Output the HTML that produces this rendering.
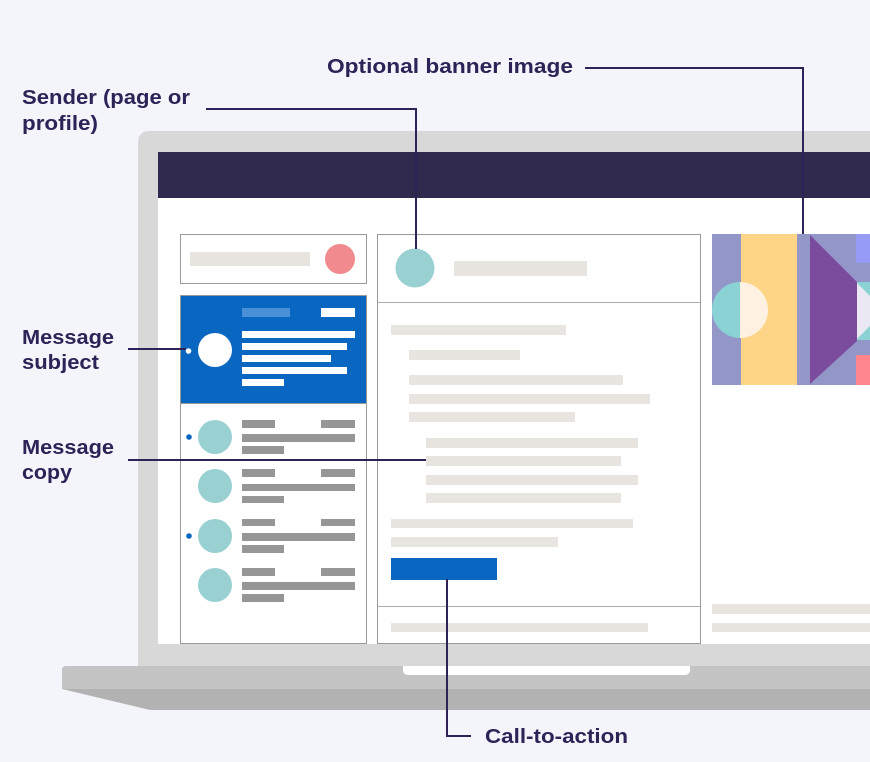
<!DOCTYPE html>
<html><head><meta charset="utf-8"><style>
html,body{margin:0;padding:0;background:#f4f5fa;}
svg{display:block}
text{font-family:"Liberation Sans",sans-serif;font-weight:bold;font-size:20px;fill:#2d2357}
</style></head><body>
<svg width="870" height="762" viewBox="0 0 870 762" xmlns="http://www.w3.org/2000/svg">
<rect width="870" height="762" fill="#f4f5fa"/>
<!-- laptop -->
<path d="M150,131 H870 V666 H138 V143 Q138,131 150,131 Z" fill="#d8d8d8"/>
<rect x="158" y="152" width="712" height="46" fill="#312a4f"/>
<rect x="158" y="198" width="712" height="446" fill="#ffffff"/>
<path d="M66,666 H870 V689 H62 V670 Q62,666 66,666 Z" fill="#c4c4c4"/>
<path d="M62,689 H870 V710 H150 Z" fill="#b2b2b2"/>
<path d="M403,666 H690 V670 Q690,675 684,675 H409 Q403,675 403,670 Z" fill="#ffffff"/>
<!-- search -->
<rect x="180.5" y="234.5" width="186" height="49" fill="#fff" stroke="#999" stroke-width="1"/>
<rect x="190" y="252" width="120" height="14" fill="#e8e4df"/>
<circle cx="340" cy="259" r="15" fill="#f08a8f"/>
<!-- list -->
<rect x="180.5" y="295.5" width="186" height="348" fill="#fff" stroke="#999" stroke-width="1"/>
<rect x="181" y="296" width="185" height="107" fill="#0967c2"/>
<line x1="181" y1="403.5" x2="366" y2="403.5" stroke="#999"/>
<circle cx="215" cy="350" r="17" fill="#fff"/>
<circle cx="188.5" cy="351" r="2.8" fill="#fff"/>
<rect x="242" y="308" width="48" height="9" fill="#4a90d9"/>
<rect x="321" y="308" width="34" height="9" fill="#fff"/>
<rect x="242" y="331" width="113" height="7" fill="#fff"/>
<rect x="242" y="343" width="105" height="7" fill="#fff"/>
<rect x="242" y="355" width="89" height="7" fill="#fff"/>
<rect x="242" y="367" width="105" height="7" fill="#fff"/>
<rect x="242" y="379" width="42" height="7" fill="#fff"/>
<g fill="#969696">
<rect x="242" y="420" width="33" height="8"/><rect x="321" y="420" width="34" height="8"/><rect x="242" y="434" width="113" height="8"/><rect x="242" y="446" width="42" height="8"/>
<rect x="242" y="469" width="33" height="8"/><rect x="321" y="469" width="34" height="8"/><rect x="242" y="484" width="113" height="7"/><rect x="242" y="496" width="42" height="7"/>
<rect x="242" y="519" width="33" height="7"/><rect x="321" y="519" width="34" height="7"/><rect x="242" y="533" width="113" height="8"/><rect x="242" y="545" width="42" height="8"/>
<rect x="242" y="568" width="33" height="8"/><rect x="321" y="568" width="34" height="8"/><rect x="242" y="582" width="113" height="8"/><rect x="242" y="594" width="42" height="8"/>
</g>
<g fill="#99d0d2">
<circle cx="215" cy="437" r="17"/><circle cx="215" cy="486" r="17"/><circle cx="215" cy="536" r="17"/><circle cx="215" cy="585" r="17"/>
</g>
<circle cx="189" cy="437" r="2.8" fill="#0967c2"/>
<circle cx="189" cy="536" r="2.8" fill="#0967c2"/>
<!-- middle -->
<rect x="377.5" y="234.5" width="323" height="409" fill="#fff" stroke="#999"/>
<line x1="378" y1="302.5" x2="700" y2="302.5" stroke="#aaa"/>
<line x1="378" y1="606.5" x2="700" y2="606.5" stroke="#aaa"/>
<circle cx="415" cy="268" r="19.5" fill="#99d0d2"/>
<g fill="#e8e4df">
<rect x="454" y="261" width="133" height="15"/>
<rect x="391" y="325" width="175" height="10"/>
<rect x="409" y="350" width="111" height="10"/>
<rect x="409" y="375" width="214" height="10"/>
<rect x="409" y="394" width="241" height="10"/>
<rect x="409" y="412" width="166" height="10"/>
<rect x="426" y="438" width="212" height="10"/>
<rect x="426" y="456" width="195" height="10"/>
<rect x="426" y="475" width="212" height="10"/>
<rect x="426" y="493" width="195" height="10"/>
<rect x="391" y="519" width="242" height="9"/>
<rect x="391" y="537" width="167" height="10"/>
<rect x="391" y="623" width="257" height="9"/>
<rect x="712" y="604" width="158" height="10"/>
<rect x="712" y="623" width="158" height="9"/>
</g>
<rect x="391" y="558" width="106" height="22" fill="#0967c2"/>
<!-- banner -->
<rect x="712" y="234" width="158" height="151" fill="#9397c8"/>
<rect x="741" y="234" width="56" height="151" fill="#fed486"/>
<path d="M740,282 A28,28 0 0 0 740,338 Z" fill="#8ad2d4"/>
<path d="M740,282 A28,28 0 0 1 740,338 Z" fill="#fff1e1"/>
<rect x="856" y="234" width="14" height="29" fill="#969cf5"/>
<rect x="856" y="282" width="14" height="58" fill="#8ad2d4"/>
<path d="M856,282 L870,296 V326 L856,340 Z" fill="#eae8f3"/>
<rect x="856" y="355" width="14" height="30" fill="#fe858e"/>
<path d="M810,235 L857,282 V341 L810,384 Z" fill="#7b4b9e"/>
<!-- connectors -->
<g stroke="#2d2357" stroke-width="2" fill="none">
<polyline points="585,68 803,68 803,234"/>
<polyline points="206,109 416,109 416,249"/>
<line x1="128" y1="349" x2="186" y2="349"/>
<line x1="128" y1="460" x2="426" y2="460"/>
<polyline points="447,579 447,736 471,736"/>
</g>
<text x="327" y="73" textLength="246" lengthAdjust="spacingAndGlyphs">Optional banner image</text>
<text x="22" y="104" textLength="168" lengthAdjust="spacingAndGlyphs">Sender (page or</text>
<text x="22" y="130" textLength="76" lengthAdjust="spacingAndGlyphs">profile)</text>
<text x="22" y="344" textLength="92" lengthAdjust="spacingAndGlyphs">Message</text>
<text x="22" y="369" textLength="77" lengthAdjust="spacingAndGlyphs">subject</text>
<text x="22" y="454" textLength="92" lengthAdjust="spacingAndGlyphs">Message</text>
<text x="22" y="479" textLength="50" lengthAdjust="spacingAndGlyphs">copy</text>
<text x="485" y="743" textLength="143" lengthAdjust="spacingAndGlyphs">Call-to-action</text>
</svg>
</body></html>
